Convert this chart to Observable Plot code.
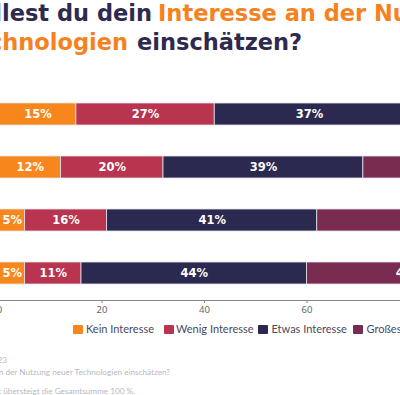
<!DOCTYPE html>
<html><head><meta charset="utf-8">
<script src="https://cdn.jsdelivr.net/npm/d3@7"></script>
<script src="https://cdn.jsdelivr.net/npm/@observablehq/plot@0.6"></script>
<style>
html,body{margin:0;padding:0;background:#fff;}
body{width:400px;height:395px;overflow:hidden;position:relative;font-family:Lato,sans-serif;}
.t{position:absolute;white-space:nowrap;font-family:"DejaVu Sans",sans-serif;font-weight:bold;font-size:22.5px;line-height:22px;}
.dark{color:#2e2a4f;} .orange{color:#f5821f;}
#chart{position:absolute;left:-121.5px;top:60px;}
#chart svg{max-width:none !important;background:transparent !important;}
.lg-sq{position:absolute;width:9.5px;height:9.5px;top:324.5px;border-radius:1px;}
.lg-tx{position:absolute;top:322px;font-size:11px;line-height:14px;color:#4a4960;white-space:nowrap;}
.cap{position:absolute;white-space:nowrap;font-size:8.2px;line-height:10px;color:#b8b8c0;}
</style></head><body>
<div class="t dark" style="right:248px;top:2px">Wie stellest du dein</div>
<div class="t orange" style="left:158px;top:2px">Interesse an der Nutzung neuer</div>
<div class="t orange" style="right:272px;top:31px">Technologien</div>
<div class="t dark" style="left:137px;top:31px">einschätzen?</div>
<div id="chart"></div>
<div id="legend"></div>
<div class="cap" style="right:393px;top:355px">Befragung 2023</div>
<div class="cap" style="right:230px;top:367px">Frage: Wie stellest du dein Interesse an der Nutzung neuer Technologien einschätzen?</div>
<div class="cap" style="right:265px;top:386px">Rundungsbedingt übersteigt die Gesamtsumme 100 %.</div>
<script>
const groups = ["Gruppe 1", "Gruppe 2", "Gruppe 3", "Gruppe 4"];
const categories = ["Kein Interesse", "Wenig Interesse", "Etwas Interesse", "Großes Interesse"];
const colors = ["#f7861c", "#b8344f", "#2c2950", "#792c50"];
const keinInteresse = [15, 12, 5, 5];
const wenigInteresse = [27, 20, 16, 11];
const etwasInteresse = [37, 39, 41, 44];
const grossesInteresse = [22, 29, 38, 40];
const xTicks = [0, 20, 40, 60, 80, 100];

const series = [keinInteresse, wenigInteresse, etwasInteresse, grossesInteresse];
const data = [];
groups.forEach((g, i) => categories.forEach((c, j) => data.push({group: g, category: c, value: series[j][i]})));

const plot = Plot.plot({
  width: 660, height: 270,
  marginLeft: 120, marginRight: 27.5, marginTop: 27, marginBottom: 30,
  style: {maxWidth: "none", background: "transparent", overflow: "visible"},
  x: {domain: [0, 100], ticks: xTicks, tickSize: 3, tickPadding: 3, line: true, label: null},
  y: {domain: groups, axis: null, paddingInner: 0.585, paddingOuter: 0.3},
  color: {domain: categories, range: colors},
  marks: [
    Plot.barX(data, Plot.stackX({x: "value", y: "group", fill: "category", order: categories, stroke: "#e4e4ea", strokeWidth: 0.8})),
    Plot.text(data, Plot.stackX({x: "value", y: "group", z: "category", order: categories, text: d => d.value + "%", fill: "white", fontWeight: "bold", fontSize: 11.5, fontFamily: "DejaVu Sans"}))
  ]
});
document.getElementById("chart").appendChild(plot);
d3.select(plot).selectAll("[aria-label='x-axis'] text, g[aria-label='x-axis tick label'] text").attr("fill", "#666");
d3.select(plot).style("font-size", "9.5px").style("color", "#888");

const legend = document.getElementById("legend");
const sqX = [73, 164, 258, 353];
const txX = [86, 176, 271.5, 366.5];
categories.forEach((c, i) => {
  const s = document.createElement("div"); s.className = "lg-sq"; s.style.left = sqX[i] + "px"; s.style.background = colors[i]; legend.appendChild(s);
  const t = document.createElement("div"); t.className = "lg-tx"; t.style.left = txX[i] + "px"; t.textContent = c; legend.appendChild(t);
});
</script>
</body></html>
